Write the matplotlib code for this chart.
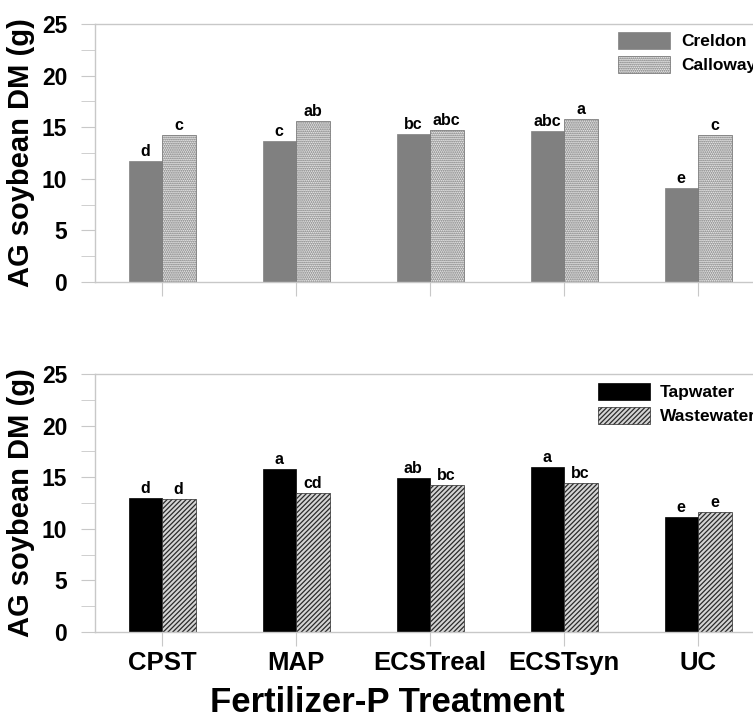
import numpy as np
import matplotlib.pyplot as plt

plt.rcParams['font.family'] = ['Liberation Sans', 'DejaVu Sans']
plt.rcParams['font.weight'] = 'bold'
plt.rcParams['hatch.linewidth'] = 0.9

treatments = ['CPST', 'MAP', 'ECSTreal', 'ECSTsyn', 'UC']

creldon = [11.7, 13.7, 14.3, 14.6, 9.1]
calloway = [14.2, 15.6, 14.7, 15.8, 14.2]
creldon_letters = ['d', 'c', 'bc', 'abc', 'e']
calloway_letters = ['c', 'ab', 'abc', 'a', 'c']

tapwater = [13.0, 15.8, 14.9, 16.0, 11.1]
wastewater = [12.9, 13.5, 14.2, 14.4, 11.6]
tap_letters = ['d', 'a', 'ab', 'a', 'e']
waste_letters = ['d', 'cd', 'bc', 'bc', 'e']

W, H = 753, 716
fig = plt.figure(figsize=(W / 100, H / 100), dpi=100)

ax1 = fig.add_axes([95 / W, (H - 282) / H, 670 / W, 258 / H])
ax2 = fig.add_axes([95 / W, (H - 632) / H, 670 / W, 258 / H])

x = np.arange(len(treatments))
bw = 0.25


def style_axis(ax):
    ax.set_xlim(-0.5, len(treatments) - 0.5)
    ax.set_ylim(0, 25)
    ax.set_yticks([0, 5, 10, 15, 20, 25])
    ax.set_yticks(np.arange(2.5, 25, 5), minor=True)
    for s in ['left', 'top', 'bottom']:
        ax.spines[s].set_color('#c8c8c8')
        ax.spines[s].set_linewidth(1.0)
    ax.spines['right'].set_visible(False)
    ax.tick_params(axis='y', which='both', length=10, color='#c8c8c8',
                   labelsize=16.5, pad=10)
    ax.tick_params(axis='x', length=10, color='#c8c8c8', labelsize=18.5, pad=4)
    ax.set_xticks(x)
    ax.set_ylabel('AG soybean DM (g)', fontsize=21, fontweight='bold')
    ax.yaxis.set_label_coords(-0.09, 0.5)


def label_bars(ax, xs, vals, letters):
    for xi, v, t in zip(xs, vals, letters):
        ax.annotate(t, (xi, v), xytext=(0, 1.5), textcoords='offset points',
                    ha='center', va='bottom', fontsize=11.5, fontweight='bold')


# top panel: soils
b1 = ax1.bar(x - bw / 2, creldon, bw, color='#808080', edgecolor='#808080',
             linewidth=0.5, label='Creldon')
b2 = ax1.bar(x + bw / 2, calloway, bw, color='#f0f0f0', edgecolor='#6a6a6a',
             hatch='........', linewidth=0.5, label='Calloway')
label_bars(ax1, x - bw / 2, creldon, creldon_letters)
label_bars(ax1, x + bw / 2, calloway, calloway_letters)
style_axis(ax1)
ax1.set_xticklabels([])
ax1.legend(loc='upper left', bbox_to_anchor=(618 / W, 1 - 32 / H),
           bbox_transform=fig.transFigure, frameon=False, fontsize=12.5,
           borderpad=0, borderaxespad=0, handlelength=3.0, handleheight=1.15,
           handletextpad=0.65, labelspacing=0.35)

# bottom panel: irrigation water
b3 = ax2.bar(x - bw / 2, tapwater, bw, color='black', edgecolor='black',
             linewidth=0.5, label='Tapwater')
b4 = ax2.bar(x + bw / 2, wastewater, bw, color='#d4d4d4', edgecolor='#2a2a2a',
             hatch='///////', linewidth=0.5, label='Wastewater')
label_bars(ax2, x - bw / 2, tapwater, tap_letters)
label_bars(ax2, x + bw / 2, wastewater, waste_letters)
style_axis(ax2)
ax2.set_xticklabels(treatments, fontweight='bold')
ax2.legend(loc='upper left', bbox_to_anchor=(598 / W, 1 - 383 / H),
           bbox_transform=fig.transFigure, frameon=False, fontsize=12.5,
           borderpad=0, borderaxespad=0, handlelength=3.0, handleheight=1.15,
           handletextpad=0.55, labelspacing=0.35)

fig.text(387 / W, 1 - 712 / H, 'Fertilizer-P Treatment', ha='center',
         va='baseline', fontsize=25, fontweight='bold')

fig.savefig('out.png', dpi=100)
